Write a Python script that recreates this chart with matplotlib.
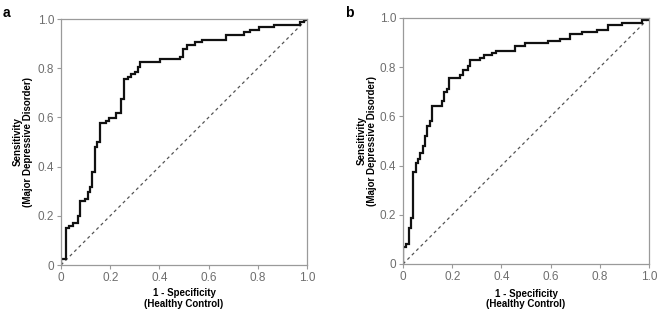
import matplotlib
matplotlib.use("Agg")
import matplotlib.pyplot as plt

plt.rcParams['font.family'] = ['Liberation Sans', 'DejaVu Sans']

# ROC curve corners (1 - specificity, sensitivity)
fpr_a = [0, 0, 0.020, 0.031, 0.049, 0.068, 0.079, 0.098, 0.108, 0.117, 0.127,
         0.137, 0.148, 0.157, 0.184, 0.196, 0.224, 0.244, 0.255, 0.274, 0.283,
         0.302, 0.313, 0.322, 0.404, 0.484, 0.495, 0.512, 0.543, 0.573, 0.672,
         0.743, 0.770, 0.804, 0.864, 0.973, 0.989, 1.0]
tpr_a = [0, 0.023, 0.152, 0.160, 0.172, 0.200, 0.260, 0.270, 0.298, 0.318, 0.380,
         0.478, 0.499, 0.577, 0.587, 0.598, 0.617, 0.676, 0.756, 0.766, 0.776,
         0.786, 0.806, 0.827, 0.836, 0.847, 0.877, 0.896, 0.906, 0.916, 0.936,
         0.947, 0.957, 0.966, 0.977, 0.986, 0.996, 1.0]

fpr_b = [0, 0, 0.0135, 0.023, 0.031, 0.041, 0.051, 0.061, 0.070, 0.080, 0.091,
         0.097, 0.108, 0.118, 0.158, 0.168, 0.177, 0.189, 0.233, 0.244, 0.264,
         0.273, 0.311, 0.330, 0.360, 0.379, 0.456, 0.497, 0.591, 0.639, 0.679,
         0.727, 0.788, 0.835, 0.889, 0.970, 1.0]
tpr_b = [0, 0.070, 0.081, 0.148, 0.186, 0.373, 0.412, 0.426, 0.453, 0.478, 0.521,
         0.562, 0.583, 0.643, 0.663, 0.701, 0.711, 0.758, 0.769, 0.790, 0.806,
         0.828, 0.837, 0.848, 0.858, 0.867, 0.885, 0.898, 0.905, 0.915, 0.935,
         0.944, 0.953, 0.972, 0.980, 0.990, 1.0]

ticks = [0, 0.2, 0.4, 0.6, 0.8, 1.0]
tick_labels = ['0', '0.2', '0.4', '0.6', '0.8', '1.0']

fig = plt.figure(figsize=(6.57, 3.15), dpi=100)
ax_a = fig.add_axes([61/657, 50/315, 246/657, 246/315])
ax_b = fig.add_axes([403/657, 51/315, 246/657, 246/315])


def draw_roc(ax, fpr, tpr, letter, lx, ylab_x, xlab_y):
    ax.plot([0, 1], [0, 1], linestyle=(0, (2.5, 2.5)), color='#555555', lw=0.9)
    ax.plot(fpr, tpr, drawstyle='steps-post', color='#111111', lw=1.6,
            solid_joinstyle='miter')
    ax.set_xlim(0, 1)
    ax.set_ylim(0, 1)
    ax.set_xticks(ticks)
    ax.set_xticklabels(tick_labels)
    ax.set_yticks(ticks)
    ax.set_yticklabels(tick_labels)
    for s in ax.spines.values():
        s.set_color('#9a9a9a')
        s.set_linewidth(0.9)
    ax.tick_params(length=3, width=0.8, color='#9a9a9a', labelcolor='#6e6e6e',
                   labelsize=8.5, pad=2)
    ax.set_xlabel('1 - Specificity\n(Healthy Control)', fontsize=7,
                  fontweight='bold', linespacing=1.05)
    ax.set_ylabel('Sensitivity\n(Major Depressive Disorder)', fontsize=7,
                  fontweight='bold', linespacing=1.05)
    ax.xaxis.set_label_coords(0.5, xlab_y)
    ax.yaxis.set_label_coords(ylab_x, 0.5)
    fig.text(lx, 0.98, letter, fontsize=10, fontweight='bold', va='top')


draw_roc(ax_a, fpr_a, tpr_a, 'a', 3/657, -0.115, -0.095)
draw_roc(ax_b, fpr_b, tpr_b, 'b', 345/657, -0.105, -0.10)

fig.savefig('out.png', dpi=100)
